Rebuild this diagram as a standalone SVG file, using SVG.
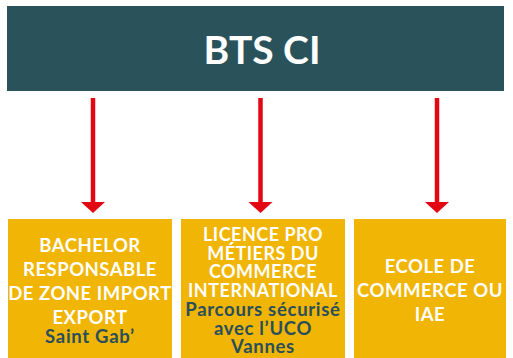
<svg xmlns="http://www.w3.org/2000/svg" width="513" height="358" viewBox="0 0 513 358">
<defs>
<style>
.hdr{fill:#2a525b}
.box{fill:#f0b505}
.t{font-family:Lato,"Open Sans","Liberation Sans",sans-serif;font-weight:700;text-anchor:middle}
.w{fill:#ffffff;letter-spacing:0.5px}
.d{fill:#2a4f5a;letter-spacing:0.7px}
.shaft{stroke:#e30613;stroke-width:4.5;fill:none}
.head{fill:#e30613}
</style>
</defs>
<rect width="513" height="358" fill="#ffffff"/>
<g id="node-bts">
<rect class="hdr" x="7" y="6" width="497" height="85"/>
<text class="t" fill="#ffffff" x="262" y="64" font-size="39" font-weight="600">BTS CI</text>
</g>
<g id="connectors">
<line class="shaft" x1="93" y1="98" x2="93" y2="203"/>
<polygon class="head" points="81,202 105,202 93,213"/>
<line class="shaft" x1="260.5" y1="98" x2="260.5" y2="203"/>
<polygon class="head" points="248.5,202 272.5,202 260.5,213"/>
<line class="shaft" x1="437" y1="98" x2="437" y2="203"/>
<polygon class="head" points="425,202 449,202 437,213"/>
</g>
<g id="node-bachelor">
<rect class="box" x="8" y="219" width="164" height="139"/>
<text class="t w" font-size="18.5" x="90"><tspan x="90" y="252">BACHELOR</tspan><tspan x="90" y="276">RESPONSABLE</tspan><tspan x="90" y="300">DE ZONE IMPORT</tspan><tspan x="90" y="324">EXPORT</tspan></text>
<text class="t d" font-size="18.5" x="90" y="342.5">Saint Gab’</text>
</g>
<g id="node-licence">
<rect class="box" x="181" y="219" width="164" height="139"/>
<text class="t w" font-size="18" x="263"><tspan x="263" y="241">LICENCE PRO</tspan><tspan x="263" y="259.5">MÉTIERS DU</tspan><tspan x="263" y="278">COMMERCE</tspan><tspan x="263" y="296.5">INTERNATIONAL</tspan></text>
<text class="t d" font-size="18.5" x="263"><tspan x="263" y="316">Parcours sécurisé</tspan><tspan x="263" y="335">avec l’UCO</tspan><tspan x="263" y="352.5">Vannes</tspan></text>
</g>
<g id="node-ecole">
<rect class="box" x="354" y="219" width="152" height="139"/>
<text class="t w" font-size="18.5" x="430"><tspan x="430" y="272.5">ECOLE DE</tspan><tspan x="430" y="296.5">COMMERCE OU</tspan><tspan x="430" y="320.5">IAE</tspan></text>
</g>
</svg>
